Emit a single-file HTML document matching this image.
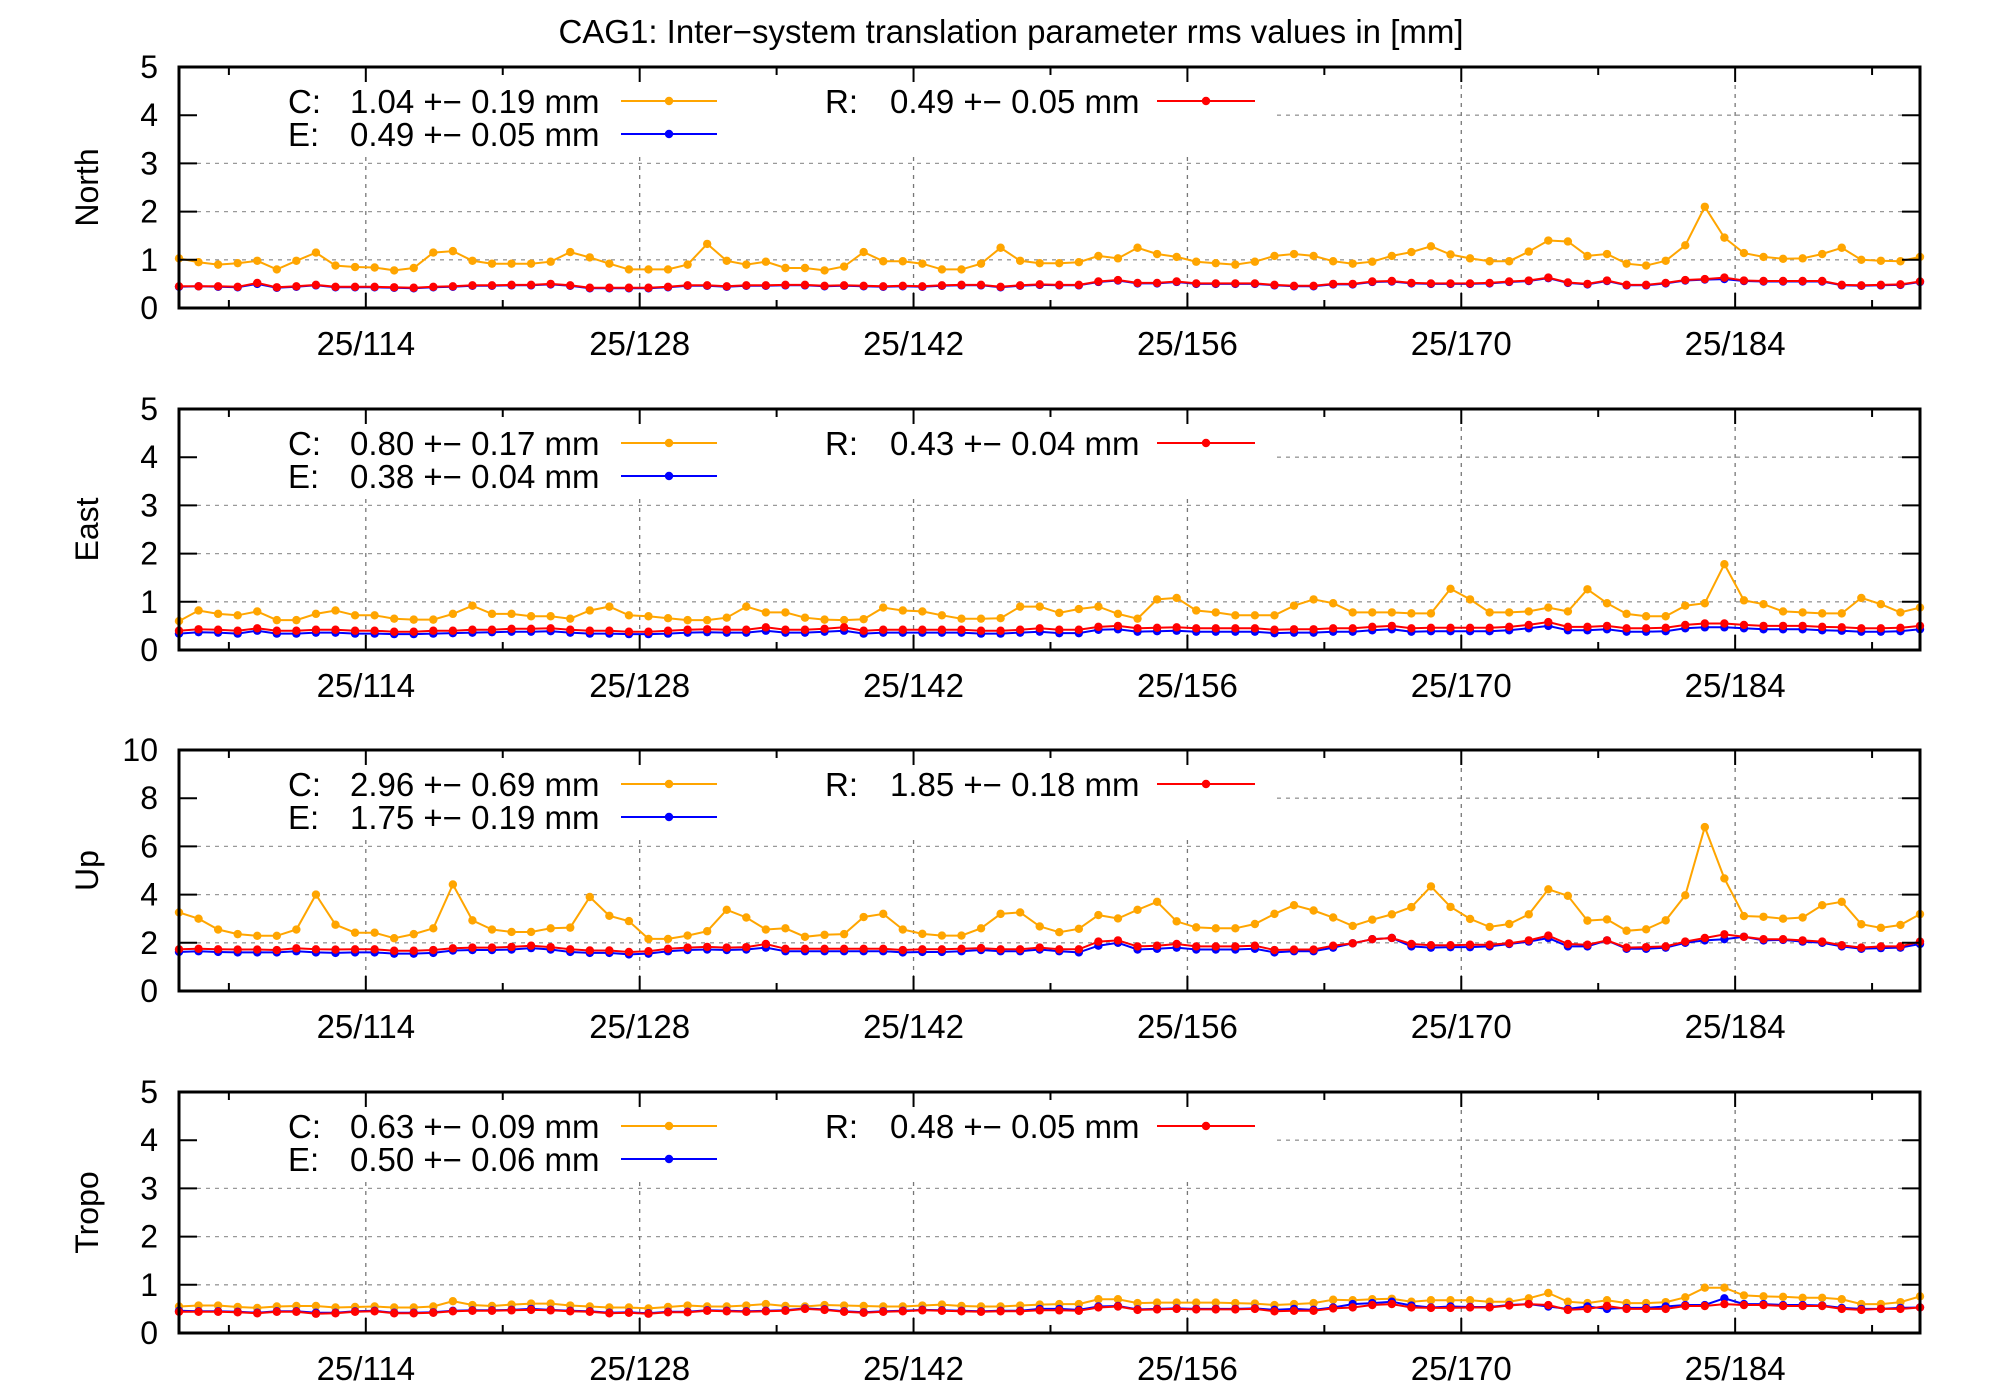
<!DOCTYPE html>
<html><head><meta charset="utf-8"><style>
html,body{margin:0;padding:0;background:#fff}
svg{display:block}
text{font-family:"Liberation Sans",sans-serif;fill:#000}
</style></head><body>
<svg id="chart" width="2000" height="1400" viewBox="0 0 2000 1400" xmlns="http://www.w3.org/2000/svg">
<rect width="2000" height="1400" fill="#fff"/>
<text x="1011" y="43" font-size="33" text-anchor="middle">CAG1: Inter−system translation parameter rms values in [mm]</text>
</svg>
<script>
const panelNames = ["North","East","Up","Tropo"];
const yMaxes = [5,5,10,5];
const yStepTicks = [1,1,2,1];
const xTickDays = [114,128,142,156,170,184];
const xTickLabels = ["25/114","25/128","25/142","25/156","25/170","25/184"];
const legendC = ["1.04 +− 0.19 mm","0.80 +− 0.17 mm","2.96 +− 0.69 mm","0.63 +− 0.09 mm"];
const legendE = ["0.49 +− 0.05 mm","0.38 +− 0.04 mm","1.75 +− 0.19 mm","0.50 +− 0.06 mm"];
const legendR = ["0.49 +− 0.05 mm","0.43 +− 0.04 mm","1.85 +− 0.18 mm","0.48 +− 0.05 mm"];
const startDay = 104.45;

const northC = [1.03,0.95,0.9,0.93,0.98,0.8,0.98,1.15,0.88,0.85,0.84,0.78,0.83,1.15,1.18,0.98,0.92,0.92,0.92,0.96,1.16,1.05,0.92,0.8,0.8,0.8,0.9,1.33,0.98,0.9,0.96,0.83,0.83,0.78,0.86,1.16,0.97,0.97,0.92,0.8,0.8,0.92,1.25,0.98,0.93,
0.93,0.95,1.08,1.03,1.25,1.12,1.06,0.96,0.93,0.9,0.96,1.08,1.12,1.08,0.97,0.92,0.96,1.08,1.16,1.28,1.11,1.03,0.97,0.97,1.17,1.4,1.38,1.08,1.12,0.92,0.88,0.98,1.3,2.1,1.46,1.14,1.06,1.02,1.03,1.12,1.25,1.0,0.98,0.97,1.06];
const northR = [0.45,0.45,0.45,0.44,0.52,0.43,0.45,0.48,0.44,0.44,0.44,0.43,0.42,0.44,0.45,0.47,0.47,0.48,0.48,0.5,0.47,0.42,0.42,0.42,0.42,0.44,0.47,0.47,0.45,0.47,0.47,0.48,0.48,0.46,0.47,0.46,0.45,0.46,0.45,0.47,0.48,0.48,0.44,0.47,0.49,
0.48,0.48,0.55,0.58,0.52,0.52,0.55,0.51,0.51,0.51,0.51,0.48,0.46,0.46,0.5,0.5,0.55,0.56,0.52,0.51,0.51,0.51,0.52,0.55,0.57,0.63,0.53,0.5,0.57,0.48,0.48,0.52,0.58,0.6,0.63,0.57,0.56,0.56,0.56,0.56,0.48,0.47,0.48,0.49,0.55];
const northE = [0.44,0.45,0.44,0.43,0.5,0.42,0.44,0.47,0.43,0.43,0.43,0.42,0.41,0.43,0.44,0.46,0.46,0.47,0.47,0.49,0.46,0.41,0.41,0.41,0.41,0.43,0.46,0.46,0.44,0.46,0.46,0.47,0.47,0.45,0.46,0.45,0.44,0.45,0.44,0.46,0.47,0.47,0.43,0.46,0.48,
0.47,0.47,0.54,0.57,0.51,0.51,0.54,0.5,0.5,0.5,0.5,0.47,0.45,0.45,0.49,0.49,0.54,0.55,0.51,0.5,0.5,0.5,0.51,0.54,0.56,0.62,0.52,0.49,0.56,0.47,0.47,0.51,0.57,0.59,0.6,0.56,0.55,0.55,0.55,0.55,0.47,0.46,0.47,0.48,0.54];

const eastC = [0.6,0.82,0.75,0.72,0.8,0.62,0.62,0.75,0.82,0.72,0.72,0.65,0.63,0.63,0.75,0.92,0.75,0.75,0.7,0.7,0.65,0.82,0.9,0.72,0.7,0.66,0.62,0.62,0.67,0.9,0.78,0.78,0.67,0.63,0.62,0.64,0.88,0.82,0.8,0.72,0.65,0.65,0.66,0.9,0.9,
0.77,0.85,0.9,0.75,0.65,1.05,1.08,0.82,0.78,0.72,0.72,0.72,0.92,1.05,0.97,0.78,0.78,0.78,0.76,0.76,1.27,1.05,0.78,0.78,0.8,0.88,0.8,1.26,0.97,0.75,0.7,0.7,0.92,0.97,1.78,1.03,0.95,0.8,0.78,0.76,0.76,1.08,0.95,0.78,0.88];
const eastR = [0.4,0.43,0.42,0.4,0.45,0.4,0.4,0.42,0.42,0.4,0.4,0.38,0.38,0.4,0.4,0.42,0.42,0.44,0.44,0.45,0.42,0.4,0.4,0.38,0.38,0.4,0.42,0.43,0.42,0.42,0.47,0.42,0.42,0.44,0.47,0.4,0.42,0.42,0.42,0.42,0.42,0.4,0.4,0.42,0.45,
0.42,0.42,0.48,0.5,0.45,0.46,0.47,0.45,0.45,0.45,0.45,0.42,0.43,0.43,0.45,0.45,0.48,0.5,0.45,0.46,0.46,0.46,0.46,0.48,0.52,0.58,0.48,0.48,0.5,0.45,0.45,0.46,0.52,0.55,0.55,0.52,0.5,0.5,0.5,0.48,0.47,0.45,0.45,0.46,0.5];
const eastE = [0.34,0.37,0.36,0.34,0.4,0.34,0.34,0.36,0.36,0.34,0.34,0.33,0.33,0.34,0.35,0.36,0.37,0.38,0.38,0.39,0.36,0.34,0.34,0.33,0.33,0.34,0.36,0.37,0.36,0.36,0.4,0.36,0.36,0.38,0.4,0.34,0.36,0.36,0.36,0.36,0.36,0.34,0.34,0.36,0.38,
0.35,0.35,0.42,0.43,0.38,0.39,0.4,0.38,0.38,0.38,0.38,0.35,0.36,0.36,0.38,0.38,0.41,0.43,0.38,0.39,0.39,0.39,0.39,0.41,0.45,0.5,0.41,0.41,0.43,0.38,0.38,0.39,0.45,0.47,0.47,0.45,0.43,0.43,0.43,0.41,0.4,0.38,0.38,0.39,0.43];

const upC = [3.26,3.0,2.55,2.36,2.29,2.29,2.55,4.0,2.75,2.42,2.42,2.19,2.36,2.6,4.42,2.93,2.55,2.45,2.45,2.6,2.63,3.9,3.12,2.9,2.16,2.16,2.3,2.48,3.37,3.05,2.55,2.6,2.25,2.33,2.36,3.07,3.2,2.55,2.37,2.3,2.3,2.6,3.2,3.26,2.68,
2.44,2.58,3.15,3.01,3.37,3.7,2.89,2.64,2.6,2.6,2.78,3.2,3.56,3.34,3.05,2.7,2.96,3.18,3.48,4.34,3.49,2.99,2.66,2.78,3.18,4.22,3.95,2.92,2.97,2.5,2.56,2.93,3.97,6.8,4.67,3.11,3.08,3.0,3.05,3.56,3.7,2.77,2.62,2.74,3.19];
const upR = [1.73,1.75,1.73,1.72,1.72,1.7,1.77,1.73,1.72,1.73,1.73,1.67,1.67,1.7,1.77,1.8,1.8,1.83,1.88,1.82,1.73,1.68,1.68,1.62,1.65,1.75,1.8,1.83,1.8,1.82,1.95,1.75,1.75,1.75,1.75,1.75,1.75,1.7,1.73,1.73,1.75,1.78,1.73,1.73,1.8,
1.73,1.73,2.05,2.1,1.85,1.88,1.95,1.85,1.85,1.85,1.88,1.7,1.72,1.72,1.88,1.98,2.15,2.2,1.95,1.9,1.9,1.92,1.92,1.98,2.1,2.3,1.95,1.92,2.1,1.8,1.82,1.85,2.05,2.2,2.35,2.25,2.15,2.15,2.1,2.05,1.9,1.8,1.85,1.85,2.05];
const upE = [1.62,1.65,1.62,1.6,1.6,1.6,1.65,1.6,1.58,1.6,1.6,1.55,1.55,1.58,1.68,1.7,1.7,1.72,1.78,1.72,1.62,1.58,1.58,1.52,1.55,1.65,1.7,1.72,1.7,1.72,1.8,1.65,1.65,1.65,1.65,1.65,1.65,1.6,1.62,1.62,1.65,1.7,1.65,1.65,1.72,
1.65,1.6,1.88,2.0,1.72,1.75,1.8,1.72,1.72,1.72,1.75,1.6,1.65,1.65,1.8,1.98,2.15,2.2,1.85,1.8,1.82,1.82,1.85,1.95,2.05,2.2,1.85,1.85,2.1,1.75,1.75,1.8,2.0,2.1,2.15,2.25,2.1,2.12,2.05,2.0,1.85,1.75,1.78,1.8,1.95];

const tropoC = [0.55,0.57,0.57,0.54,0.52,0.55,0.56,0.56,0.53,0.54,0.55,0.53,0.53,0.55,0.66,0.58,0.56,0.59,0.61,0.61,0.57,0.55,0.53,0.53,0.51,0.54,0.57,0.55,0.55,0.57,0.6,0.56,0.55,0.58,0.57,0.56,0.55,0.55,0.57,0.59,0.56,0.55,0.55,0.57,0.59,
0.6,0.6,0.7,0.7,0.62,0.63,0.63,0.63,0.63,0.62,0.61,0.58,0.6,0.62,0.69,0.68,0.7,0.71,0.65,0.68,0.68,0.68,0.65,0.65,0.72,0.83,0.65,0.62,0.68,0.62,0.62,0.64,0.74,0.94,0.94,0.78,0.76,0.75,0.73,0.73,0.7,0.6,0.6,0.64,0.76];
const tropoR = [0.44,0.44,0.44,0.43,0.41,0.44,0.44,0.4,0.41,0.44,0.45,0.41,0.41,0.42,0.45,0.46,0.46,0.47,0.48,0.47,0.45,0.44,0.41,0.42,0.4,0.43,0.43,0.46,0.45,0.44,0.45,0.46,0.5,0.48,0.44,0.42,0.44,0.45,0.47,0.46,0.45,0.44,0.45,0.45,0.47,
0.47,0.46,0.53,0.55,0.48,0.49,0.5,0.49,0.49,0.49,0.5,0.45,0.46,0.46,0.51,0.53,0.58,0.6,0.53,0.52,0.52,0.53,0.53,0.57,0.6,0.58,0.48,0.5,0.56,0.5,0.5,0.5,0.56,0.56,0.6,0.58,0.58,0.56,0.56,0.56,0.5,0.48,0.5,0.5,0.53];
const tropoE = [0.46,0.45,0.45,0.44,0.42,0.45,0.45,0.42,0.42,0.45,0.46,0.42,0.42,0.43,0.46,0.47,0.47,0.48,0.5,0.48,0.46,0.45,0.42,0.43,0.41,0.44,0.44,0.47,0.46,0.45,0.46,0.47,0.51,0.49,0.45,0.43,0.45,0.46,0.48,0.47,0.46,0.45,0.46,0.46,0.5,
0.5,0.48,0.55,0.56,0.49,0.5,0.51,0.5,0.5,0.5,0.51,0.48,0.5,0.48,0.53,0.6,0.62,0.65,0.57,0.53,0.55,0.54,0.54,0.58,0.6,0.55,0.5,0.55,0.5,0.52,0.52,0.55,0.58,0.58,0.72,0.6,0.6,0.58,0.58,0.57,0.52,0.5,0.5,0.52,0.53];

const seriesC = [northC,eastC,upC,tropoC];
const seriesE = [northE,eastE,upE,tropoE];
const seriesR = [northR,eastR,upR,tropoR];

const NS="http://www.w3.org/2000/svg";
const svg=document.getElementById('chart');
const L=179,R=1920,H=241;
const tops=[67,409,750,1092];
const nPts=northC.length;
const endDay=startDay+(nPts-1);
function xScale(d){return L+(d-startDay)/(endDay-startDay)*(R-L);}
function mk(tag,attrs,parent){const e=document.createElementNS(NS,tag);for(const k in attrs)e.setAttribute(k,attrs[k]);(parent||svg).appendChild(e);return e;}

for(let p=0;p<4;p++){
  const top=tops[p],bot=top+H,ymax=yMaxes[p];
  const yScale=v=>bot-v/ymax*H;
  const g=mk('g',{});
  
  
  for(let v=yStepTicks[p];v<ymax;v+=yStepTicks[p]){
    const gl=mk('line',{x1:L,x2:R,y1:yScale(v),y2:yScale(v),stroke:'#999','stroke-width':1.3,'stroke-dasharray':'4,5'},g);
    
    
  }
  xTickDays.forEach(d=>{
    const gl=mk('line',{x1:xScale(d),x2:xScale(d),y1:top,y2:bot,stroke:'#777','stroke-width':1.3,'stroke-dasharray':'4,5'},g);
    
    
  });
  mk('rect',{x:L+2,y:top+2,width:1275-L,height:86,fill:'#fff'},g);
  const defs=[[seriesE[p],'#0000ff','series-e'],[seriesR[p],'#ff0000','series-r'],[seriesC[p],'#ffa500','series-c']];
  const order=[2,0,1];
  order.forEach(k=>{
    const [arr,col,nm]=defs[k];
    const sg=mk('g',{},g);
    
    
    const pts=arr.map((v,i)=>xScale(startDay+i).toFixed(1)+','+yScale(v).toFixed(1)).join(' ');
    mk('polyline',{points:pts,fill:'none',stroke:col,'stroke-width':2},sg);
    arr.forEach((v,i)=>{
      const c=mk('circle',{cx:xScale(startDay+i),cy:yScale(v),r:4.2,fill:col},sg);
      
      
    });
  });
  const fr=mk('rect',{x:L,y:top,width:R-L,height:H,fill:'none',stroke:'#000','stroke-width':3},g);
  
  
  for(let v=0;v<=ymax;v+=yStepTicks[p]){
    const y=yScale(v);
    mk('line',{x1:L,x2:L+18,y1:y,y2:y,stroke:'#000','stroke-width':2},g);
    mk('line',{x1:R-18,x2:R,y1:y,y2:y,stroke:'#000','stroke-width':2},g);
    const t=mk('text',{x:158,y:y+11,'font-size':32,'text-anchor':'end'},g);
    t.textContent=String(v);
    
    
  }
  for(let d=107;d<=193;d+=7){
    const major=((d-114)%14===0);
    const len=major?15:8;
    const x=xScale(d);
    mk('line',{x1:x,x2:x,y1:bot,y2:bot-len,stroke:'#000','stroke-width':2},g);
    mk('line',{x1:x,x2:x,y1:top,y2:top+len,stroke:'#000','stroke-width':2},g);
  }
  xTickDays.forEach((d,i)=>{
    const t=mk('text',{x:xScale(d),y:bot+47,'font-size':33,'text-anchor':'middle'},g);
    t.textContent=xTickLabels[i];
    
    
  });
  const cy=top+H/2;
  const at=mk('text',{x:98,y:cy,'font-size':32,'text-anchor':'middle',transform:'rotate(-90 98 '+cy+')'},g);
  at.textContent=panelNames[p];
  
  
  const ents=[['C:',legendC[p],'#ffa500',288,350,621,717,top+34],['E:',legendE[p],'#0000ff',288,350,621,717,top+67],['R:',legendR[p],'#ff0000',825,890,1157,1255,top+34]];
  ents.forEach(e=>{
    const lg=mk('g',{},g);
    
    
    const t1=mk('text',{x:e[3],y:e[7]+12,'font-size':33},lg);t1.textContent=e[0];
    const t2=mk('text',{x:e[4],y:e[7]+12,'font-size':33},lg);t2.textContent=e[1];
    mk('line',{x1:e[5],x2:e[6],y1:e[7],y2:e[7],stroke:e[2],'stroke-width':2},lg);
    mk('circle',{cx:(e[5]+e[6])/2,cy:e[7],r:4.2,fill:e[2]},lg);
  });
}
</script>
</body></html>
